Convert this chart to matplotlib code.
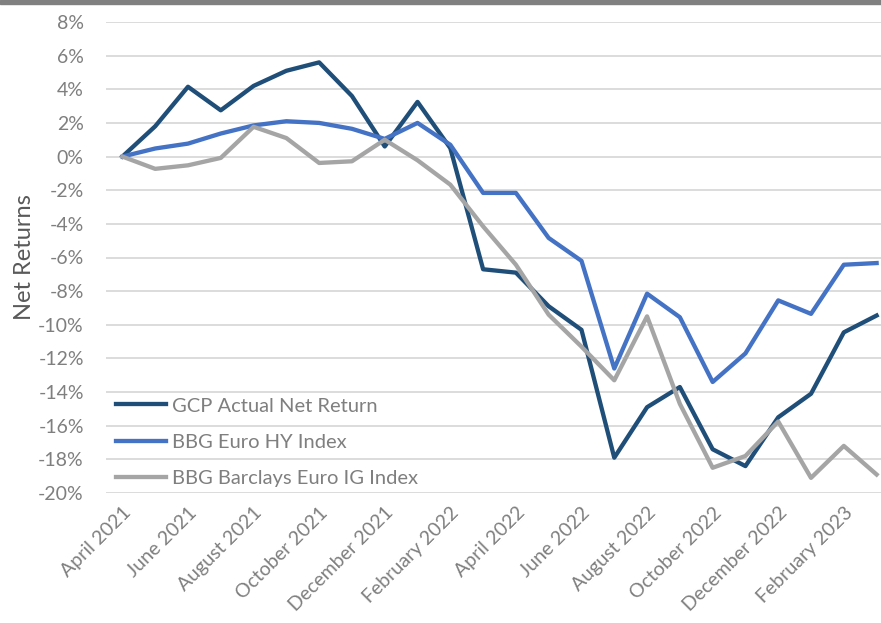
import matplotlib.pyplot as plt
from matplotlib.patches import Rectangle
from matplotlib.ticker import FuncFormatter

# monthly data, April 2021 - March 2023
months = ['April 2021', 'May 2021', 'June 2021', 'July 2021', 'August 2021',
          'September 2021', 'October 2021', 'November 2021', 'December 2021',
          'January 2022', 'February 2022', 'March 2022', 'April 2022', 'May 2022',
          'June 2022', 'July 2022', 'August 2022', 'September 2022',
          'October 2022', 'November 2022', 'December 2022', 'January 2023',
          'February 2023', 'March 2023']

gcp_net = [0, 1.8, 4.15, 2.75, 4.2, 5.1, 5.6, 3.6, 0.6, 3.25, 0.5, -6.7,
           -6.9, -8.9, -10.3, -17.9, -14.9, -13.7, -17.4, -18.4, -15.5, -14.1,
           -10.45, -9.45]
euro_hy = [0, 0.48, 0.77, 1.37, 1.85, 2.1, 2.0, 1.65, 1.05, 2.0, 0.7, -2.16,
           -2.16, -4.84, -6.2, -12.6, -8.15, -9.55, -13.4, -11.7, -8.55, -9.35,
           -6.43, -6.33]
euro_ig = [0, -0.73, -0.52, -0.08, 1.77, 1.1, -0.38, -0.28, 1.0, -0.22, -1.67,
           -4.15, -6.43, -9.4, -11.3, -13.3, -9.5, -14.7, -18.5, -17.8, -15.75,
           -19.1, -17.2, -18.9]

series_names = ['GCP Actual Net Return', 'BBG Euro HY Index',
                'BBG Barclays Euro IG Index']
yticks = list(range(-20, 9, 2))

plt.rcParams['font.family'] = ['Lato', 'DejaVu Sans']

fig = plt.figure(figsize=(8.81, 6.23), dpi=100)
ax = fig.add_axes([106 / 881, 1 - 493 / 623, 787 / 881, 471 / 623])

x = list(range(len(months)))
ax.plot(x, gcp_net, color='#1f4e79', lw=3.1, label=series_names[0], zorder=3)
ax.plot(x, euro_hy, color='#4472c4', lw=3.1, label=series_names[1], zorder=3)
ax.plot(x, euro_ig, color='#a5a5a5', lw=3.1, label=series_names[2], zorder=3)

ax.set_xlim(-0.5, len(months) - 0.5)
ax.set_ylim(-20, 8)
ax.set_yticks(yticks)
ax.yaxis.set_major_formatter(FuncFormatter(lambda v, p: f'{v:.0f}%'))
ax.grid(axis='y', color='#d9d9d9', lw=1.3, zorder=0)
ax.set_axisbelow(True)

ax.set_xticks(x[::2])
ax.set_xticklabels(months[::2], rotation=45, ha='right', rotation_mode='anchor')

for s in ax.spines.values():
    s.set_visible(False)
ax.tick_params(axis='both', length=0, colors='#7f7f7f', labelsize=14)
ax.tick_params(axis='y', pad=16)
ax.tick_params(axis='x', pad=8)

ax.set_ylabel('Net Returns', fontsize=17, color='#595959', labelpad=2)

leg = ax.legend(loc='lower left', bbox_to_anchor=(0.005, 0.0), frameon=False,
                fontsize=14.5, handlelength=2.5, handletextpad=0.26,
                labelspacing=0.95, borderaxespad=0.0, borderpad=0.3)
for t in leg.get_texts():
    t.set_color('#7f7f7f')

# grey band along the top edge
fig.patches.append(Rectangle((0, 1 - 4 / 623), 1, 4 / 623, transform=fig.transFigure,
                             color='#808080', zorder=10))

plt.savefig('out.png', dpi=100)
